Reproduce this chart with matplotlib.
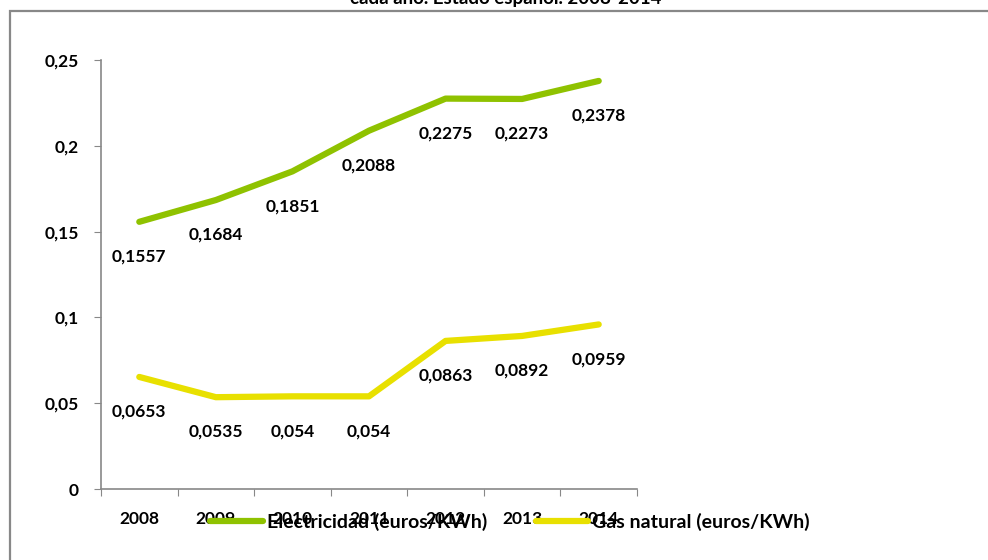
import matplotlib
matplotlib.use("Agg")
import matplotlib.pyplot as plt
from matplotlib.patches import Rectangle

# Datos
years = ["2008", "2009", "2010", "2011", "2012", "2013", "2014"]
electricidad = [0.1557, 0.1684, 0.1851, 0.2088, 0.2275, 0.2273, 0.2378]
gas_natural = [0.0653, 0.0535, 0.054, 0.054, 0.0863, 0.0892, 0.0959]
y_ticks = [0, 0.05, 0.1, 0.15, 0.2, 0.25]
y_tick_labels = ["0", "0,05", "0,1", "0,15", "0,2", "0,25"]
series_names = ["Electricidad (euros/KWh)", "Gas natural (euros/KWh)"]
title = "cada año. Estado español. 2008-2014"

green = "#8FC200"
yellow = "#E8E000"
grey = "#888888"

plt.rcParams["font.family"] = ["Lato", "DejaVu Sans"]

fig = plt.figure(figsize=(9.88, 5.6), dpi=100)
ax = fig.add_axes([101 / 988, 1 - 489 / 560, (637 - 101) / 988, (489 - 60) / 560])

x = list(range(len(years)))
ax.plot(x, electricidad, color=green, lw=4.5, solid_capstyle="round",
        solid_joinstyle="round", label=series_names[0])
ax.plot(x, gas_natural, color=yellow, lw=4.5, solid_capstyle="round",
        solid_joinstyle="round", label=series_names[1])

# Etiquetas de valor bajo cada punto
for series in (electricidad, gas_natural):
    for xi, v in zip(x, series):
        ax.annotate(f"{v:g}".replace(".", ","), (xi, v), xytext=(0, -25),
                    textcoords="offset points", ha="center", va="center",
                    fontsize=12.5, fontweight="bold", color="black")

ax.set_xlim(-0.5, len(years) - 0.5)
ax.set_ylim(0, 0.25)
ax.set_yticks(y_ticks)
ax.set_yticklabels(y_tick_labels, fontsize=12.5, fontweight="bold")
ax.set_xticks([i - 0.5 for i in range(len(years) + 1)])
ax.set_xticklabels([])
ax.set_xticks(x, minor=True)
ax.set_xticklabels(years, minor=True, fontsize=12.5, fontweight="bold")
ax.tick_params(axis="x", which="minor", length=0, pad=16)
ax.tick_params(axis="x", which="major", direction="out", length=5, color=grey)
ax.tick_params(axis="y", direction="out", length=5, color=grey, pad=11)

for side in ("top", "right"):
    ax.spines[side].set_visible(False)
for side in ("left", "bottom"):
    ax.spines[side].set_color(grey)
    ax.spines[side].set_linewidth(1.2)

leg = fig.legend(loc="center", bbox_to_anchor=(510 / 988, 1 - 522 / 560), ncol=2,
                 frameon=False, handlelength=2.7, handletextpad=0.2,
                 columnspacing=2.5, prop={"size": 14, "weight": "bold"})

fig.text(506 / 988, 1 - 4 / 560, title, ha="center", va="baseline",
         fontsize=13.5, fontweight="bold")

# Marco del gráfico
fig.patches.append(Rectangle((9.5 / 988, -0.2), 1.2, 1 - 10.5 / 560 + 0.2,
                             transform=fig.transFigure, fill=False,
                             edgecolor=grey, lw=1.6))

fig.savefig("out.png", dpi=100)
